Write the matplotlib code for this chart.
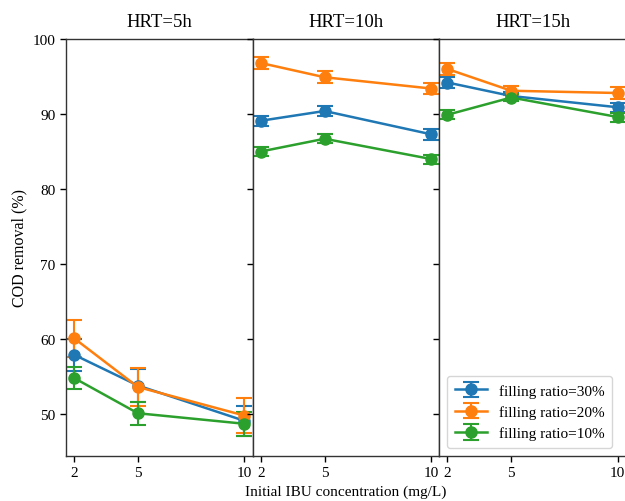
import matplotlib
matplotlib.use("Agg")
import matplotlib.pyplot as plt

plt.rcParams['font.family'] = ['Liberation Serif', 'DejaVu Serif']

conc = [2, 5, 10]
hrt_titles = ["HRT=5h", "HRT=10h", "HRT=15h"]
series_labels = ["filling ratio=30%", "filling ratio=20%", "filling ratio=10%"]
colors = ["#1f77b4", "#ff7f0e", "#2ca02c"]

# values[panel][series]
r30_vals = [[57.9, 53.8, 49.1], [89.1, 90.4, 87.3], [94.2, 92.4, 90.9]]
r30_errs = [[2.1, 2.2, 2.0], [0.7, 0.7, 0.7], [0.7, 0.5, 0.6]]
r20_vals = [[60.1, 53.6, 49.8], [96.8, 94.9, 93.4], [96.0, 93.1, 92.8]]
r20_errs = [[2.5, 2.5, 2.3], [0.8, 0.8, 0.8], [0.8, 0.6, 0.8]]
r10_vals = [[54.8, 50.1, 48.7], [85.0, 86.7, 84.0], [89.9, 92.2, 89.6]]
r10_errs = [[1.5, 1.5, 1.6], [0.6, 0.6, 0.6], [0.6, 0.5, 0.6]]

vals = [r30_vals, r20_vals, r10_vals]
errs = [r30_errs, r20_errs, r10_errs]

fig = plt.figure(figsize=(6.25, 5.02), dpi=100)
left, bottom, height = 66 / 625, 1 - 457 / 502, (457 - 40) / 502
w = 186.7 / 625
axes = []
for i in range(3):
    ax = fig.add_axes([left + i * w, bottom, w, height],
                      sharey=axes[0] if axes else None)
    axes.append(ax)

for i, ax in enumerate(axes):
    for s in range(3):
        ax.errorbar(conc, vals[s][i], yerr=errs[s][i], color=colors[s],
                    marker='o', markersize=8, linewidth=1.8, capsize=6,
                    capthick=1.5, elinewidth=1.5, label=series_labels[s])
    ax.set_xlim(1.62, 10.4)
    ax.set_xticks(conc)
    ax.set_xticklabels([str(c) for c in conc])
    ax.set_title(hrt_titles[i], fontsize=13.5, pad=9)
    ax.tick_params(labelsize=11, length=4, width=1)
    for sp in ax.spines.values():
        sp.set_color('#333333')
        sp.set_linewidth(1.0)
    if i > 0:
        ax.tick_params(labelleft=False)

axes[0].set_ylim(44.4, 100)
axes[0].set_yticks([50, 60, 70, 80, 90, 100])
axes[0].set_ylabel("COD removal (%)", fontsize=11.5)
axes[1].set_xlabel("Initial IBU concentration (mg/L)", fontsize=11, labelpad=4)
axes[2].legend(loc='lower right', bbox_to_anchor=(0.927, 0.019),
               borderaxespad=0, fontsize=11, frameon=True, fancybox=True,
               borderpad=0.5, handlelength=2.1)

fig.savefig("out.png", dpi=100)
